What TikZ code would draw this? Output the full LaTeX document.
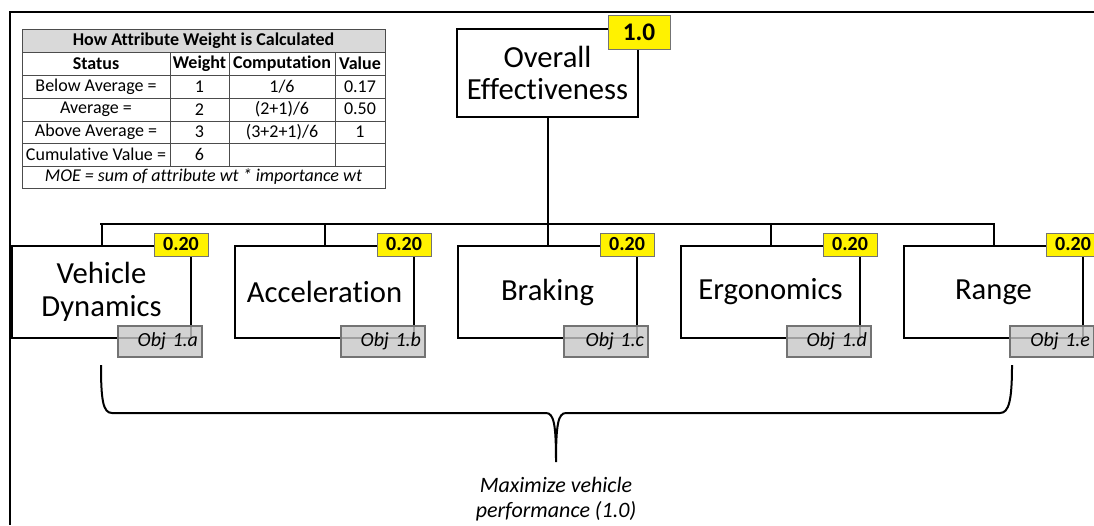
\documentclass[tikz,border=0pt]{standalone}
\usepackage{fontspec}
\setmainfont{Carlito}[Ligatures=NoCommon]
\begin{document}
\begin{tikzpicture}[x=0.75pt,y=-0.75pt,
    goalbox/.style={draw=black, line width=1.5pt, fill=white, minimum width=134pt, minimum height=69pt, inner sep=0pt, align=center, font=\fontsize{23}{25}\selectfont},
    wtbadge/.style={draw=black!55, line width=0.6pt, fill=yellow, minimum width=40.5pt, minimum height=17.25pt, inner sep=0pt, font=\fontsize{15}{16}\selectfont\bfseries},
    objtag/.style={draw=black!55, line width=0.8pt, fill=black!22, fill opacity=0.8, text opacity=1, minimum height=23.25pt, inner xsep=3pt, inner ysep=0pt, text width=57pt, align=right, font=\fontsize{15}{16}\selectfont\itshape},
    tcell/.style={inner sep=0pt, font=\fontsize{13.5}{14}\selectfont},
    tline/.style={draw=black!70, line width=0.6pt}]
    \useasboundingbox (0,0) rectangle (1094,525);
    % frame
    \draw[line width=1.5pt] (1094,12) -- (10,12) -- (10,525);

    % weight table
    \fill[black!15] (22,29) rectangle (385,52);
    \foreach \ty in {52,75,98,121,143,166}
        \draw[tline] (22,\ty) -- (385,\ty);
    \foreach \tx in {170,229,335}
        \draw[tline] (\tx,52) -- (\tx,166);
    \draw[tline] (22,29) rectangle (385,188);
    \node[tcell, font=\fontsize{13.5}{14}\selectfont\bfseries] (ttitle) at (203.5,40.5) {How Attribute Weight is Calculated};
    \node[tcell, font=\fontsize{13.5}{14}\selectfont\bfseries] (hst) at (96,63.5) {Status};
    \node[tcell, font=\fontsize{13.5}{14}\selectfont\bfseries] (hwt) at (199.5,63.5) {Weight};
    \node[tcell, font=\fontsize{13.5}{14}\selectfont\bfseries] (hcp) at (282,63.5) {Computation};
    \node[tcell, font=\fontsize{13.5}{14}\selectfont\bfseries] (hvl) at (360,63.5) {Value};
    \foreach \st/\wt/\cp/\vl [count=\r] in {Below Average =/1/{1/6}/0.17, Average =/2/{(2+1)/6}/0.50, Above Average =/3/{(3+2+1)/6}/1, Cumulative Value =/6/{}/{}} {
        \pgfmathsetmacro\ry{86.5+22.67*(\r-1)}
        \node[tcell] (st\r) at (96,\ry) {\st};
        \node[tcell] (wt\r) at (199.5,\ry) {\wt};
        \node[tcell] (cp\r) at (282,\ry) {\cp};
        \node[tcell] (vl\r) at (360,\ry) {\vl};
    }
    \node[tcell, font=\fontsize{13.5}{14}\selectfont\itshape] (tmoe) at (203.5,177) {MOE = sum of attribute wt * importance wt};

    % top goal
    \node[goalbox, minimum width=135.75pt, minimum height=66pt, font=\fontsize{23}{24}\selectfont] (top) at (547.5,73) {Overall\\Effectiveness};
    \node[wtbadge, minimum width=46.5pt, minimum height=25.5pt, font=\fontsize{19}{20}\selectfont\bfseries] (wtop) at (639,32) {1.0};

    % bus line
    \coordinate (busL) at (100,224);
    \coordinate (busR) at (995,224);
    \draw[line width=1.5pt] (busL) -- (busR);
    \draw[line width=1.5pt] (top.south) -- (top.south |- busL);

    % objectives
    \foreach \lbl/\tag/\bx in {{Vehicle\\Dynamics}/a/101.5, Acceleration/b/324.5, Braking/c/547.5, Ergonomics/d/770.5, Range/e/993.5} {
        \node[goalbox] (goal\tag) at (\bx,292) {\lbl};
        \draw[line width=1.5pt] (goal\tag.north) -- (goal\tag.north |- busL);
        \node[objtag] (obj\tag) at (\bx+58.5,341.5) {Obj 1.\tag};
        \node[wtbadge] (wt\tag) at (\bx+79.5,244.5) {0.20};
    }

    % brace
    \draw[line width=1.5pt] (101,365) .. controls (101,400) and (103,413) .. (112,413) -- (546,413)
        .. controls (554,413) and (556,425) .. (556,462)
        .. controls (556,425) and (558,413) .. (566,413) -- (1000,413)
        .. controls (1009,413) and (1012,400) .. (1012,365);
    \node[align=center, font=\fontsize{16.5}{19}\selectfont\itshape] (mission) at (556,499) {Maximize vehicle\\performance (1.0)};
\end{tikzpicture}
\end{document}
